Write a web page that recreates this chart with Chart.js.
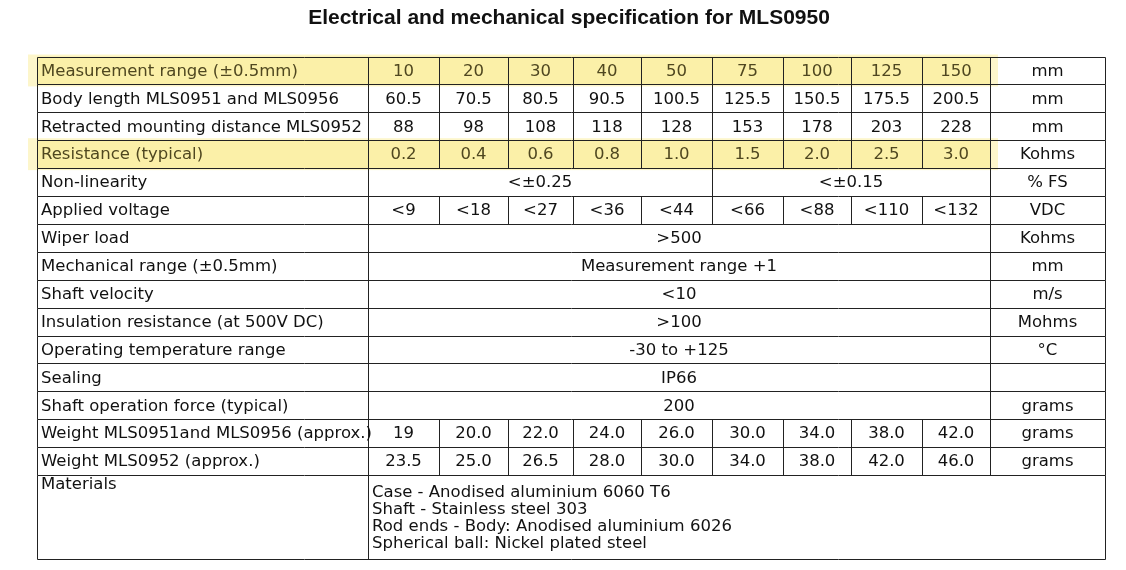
<!DOCTYPE html>
<html>
<head>
<meta charset="utf-8">
<script src="https://cdn.jsdelivr.net/npm/chart.js@4"></script>
<style>
  body { margin: 0; background: #fff; }
  #wrap { width: 1126px; height: 570px; }
</style>
</head>
<body>
<div id="wrap"><canvas id="specChart"></canvas></div>
<script>
const title = "Electrical and mechanical specification for MLS0950";

const rowLabels = [
  "Measurement range (±0.5mm)", "Body length MLS0951 and MLS0956", "Retracted mounting distance MLS0952",
  "Resistance (typical)", "Non-linearity", "Applied voltage", "Wiper load", "Mechanical range (±0.5mm)",
  "Shaft velocity", "Insulation resistance (at 500V DC)", "Operating temperature range", "Sealing",
  "Shaft operation force (typical)", "Weight MLS0951and MLS0956 (approx.)", "Weight MLS0952 (approx.)", "Materials"
];
const units = ["mm", "mm", "mm", "Kohms", "% FS", "VDC", "Kohms", "mm", "m/s", "Mohms", "°C", "", "grams", "grams", "grams", ""];

const measurementRange = ["10", "20", "30", "40", "50", "75", "100", "125", "150"];
const bodyLength = ["60.5", "70.5", "80.5", "90.5", "100.5", "125.5", "150.5", "175.5", "200.5"];
const retracted = ["88", "98", "108", "118", "128", "153", "178", "203", "228"];
const resistance = ["0.2", "0.4", "0.6", "0.8", "1.0", "1.5", "2.0", "2.5", "3.0"];
const nonLinearity = ["<±0.25", "<±0.15"];
const appliedVoltage = ["<9", "<18", "<27", "<36", "<44", "<66", "<88", "<110", "<132"];
const wiperLoad = ">500";
const mechanicalRange = "Measurement range +1";
const shaftVelocity = "<10";
const insulation = ">100";
const tempRange = "-30 to +125";
const sealing = "IP66";
const shaftForce = "200";
const weight1 = ["19", "20.0", "22.0", "24.0", "26.0", "30.0", "34.0", "38.0", "42.0"];
const weight2 = ["23.5", "25.0", "26.5", "28.0", "30.0", "34.0", "38.0", "42.0", "46.0"];
const materials = [
  "Case - Anodised aluminium 6060 T6",
  "Shaft - Stainless steel 303",
  "Rod ends - Body: Anodised aluminium 6026",
  "Spherical ball: Nickel plated steel"
];
const highlightRows = [0, 3];

// layout (in scale units = pixels)
const colEdges = [37, 368, 439, 508, 573, 641, 712, 783, 851, 922, 990, 1105];
const rowTop = 56.5, rowH = 27.9, lastRowBottom = 559;

// cell content per row: [firstCol, lastCol, text] spans (data cols 1..9)
function rowSpans(i) {
  const full = v => [[1, 9, v]];
  const each = arr => arr.map((v, k) => [k + 1, k + 1, v]);
  switch (i) {
    case 0: return each(measurementRange);
    case 1: return each(bodyLength);
    case 2: return each(retracted);
    case 3: return each(resistance);
    case 4: return [[1, 5, nonLinearity[0]], [6, 9, nonLinearity[1]]];
    case 5: return each(appliedVoltage);
    case 6: return full(wiperLoad);
    case 7: return full(mechanicalRange);
    case 8: return full(shaftVelocity);
    case 9: return full(insulation);
    case 10: return full(tempRange);
    case 11: return full(sealing);
    case 12: return full(shaftForce);
    case 13: return each(weight1);
    case 14: return each(weight2);
  }
  return [];
}

const tablePlugin = {
  id: "tablePlugin",
  afterDraw(chart) {
    const ctx = chart.ctx, xs = chart.scales.x, ys = chart.scales.y;
    const X = v => xs.getPixelForValue(v), Y = v => ys.getPixelForValue(v);
    const font = "16.5px 'DejaVu Sans', sans-serif";
    ctx.save();
    ctx.fillStyle = "#111";
    ctx.font = "bold 21px 'Liberation Sans', Arial, sans-serif";
    ctx.textAlign = "center"; ctx.textBaseline = "middle";
    ctx.fillText(title, X(569), Y(18));

    const n = rowLabels.length;
    const top = r => rowTop + r * rowH;
    const bot = r => r === n - 1 ? lastRowBottom : top(r + 1);

    // highlight bands
    highlightRows.forEach(r => {
      ctx.fillStyle = "rgba(250,236,140,0.45)";
      ctx.fillRect(X(28), Y(top(r) - 2), X(998) - X(28), Y(bot(r) + 2) - Y(top(r) - 2));
      ctx.fillStyle = "#fbf0a8";
      ctx.fillRect(X(37), Y(top(r)), X(990) - X(37), Y(bot(r)) - Y(top(r)));
    });

    ctx.strokeStyle = "#222"; ctx.lineWidth = 1;
    const line = (x1, y1, x2, y2) => {
      ctx.beginPath();
      ctx.moveTo(Math.round(X(x1)) + 0.5, Math.round(Y(y1)) + 0.5);
      ctx.lineTo(Math.round(X(x2)) + 0.5, Math.round(Y(y2)) + 0.5);
      ctx.stroke();
    };

    ctx.font = font;
    for (let r = 0; r < n; r++) {
      const t = top(r), b = bot(r), cy = (t + b) / 2;
      const hl = highlightRows.includes(r);
      line(colEdges[0], t, colEdges[11], t);
      line(colEdges[0], t, colEdges[0], b);
      line(colEdges[1], t, colEdges[1], b);
      line(colEdges[11], t, colEdges[11], b);
      ctx.fillStyle = hl ? "#4f4720" : "#111";
      ctx.textAlign = "left";
      if (r === n - 1) {
        ctx.textBaseline = "top";
        ctx.fillText(rowLabels[r], X(41), Y(t + 1));
        materials.forEach((m, k) => ctx.fillText(m, X(372), Y(t + 9 + k * 17)));
        ctx.textBaseline = "middle";
        continue;
      }
      ctx.fillText(rowLabels[r], X(41), Y(cy + 1));
      rowSpans(r).forEach(([a, z, v]) => {
        line(colEdges[z + 1], t, colEdges[z + 1], b);
        ctx.textAlign = "center";
        ctx.fillText(v, X((colEdges[a] + colEdges[z + 1]) / 2), Y(cy + 1));
      });
      line(colEdges[10], t, colEdges[10], b);
      ctx.fillStyle = "#111";
      ctx.textAlign = "center";
      ctx.fillText(units[r], X((colEdges[10] + colEdges[11]) / 2), Y(cy + 1));
    }
    line(colEdges[0], lastRowBottom, colEdges[11], lastRowBottom);
    ctx.restore();
  }
};

new Chart(document.getElementById("specChart"), {
  type: "scatter",
  data: { datasets: [{ data: [] }] },
  options: {
    responsive: true,
    maintainAspectRatio: false,
    animation: false,
    layout: { padding: 0 },
    plugins: { legend: { display: false }, tooltip: { enabled: false } },
    scales: {
      x: { type: "linear", min: 0, max: 1126, display: false },
      y: { type: "linear", min: 0, max: 570, reverse: true, display: false }
    }
  },
  plugins: [tablePlugin]
});
</script>
</body>
</html>
